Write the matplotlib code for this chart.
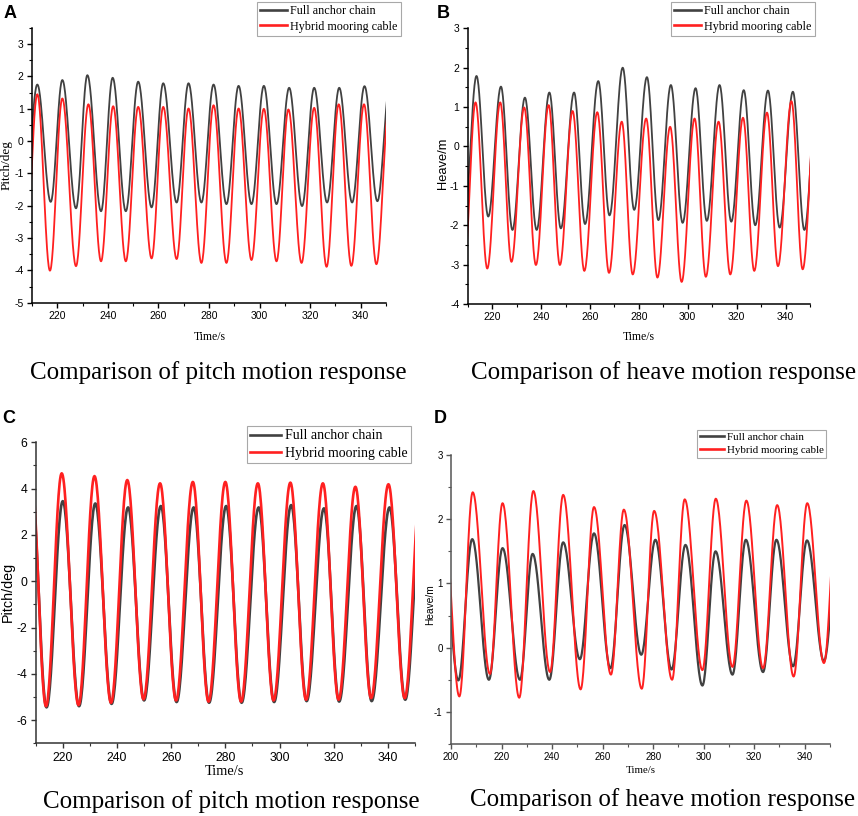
import numpy as np
import matplotlib
matplotlib.use("Agg")
import matplotlib.pyplot as plt
from matplotlib.ticker import MultipleLocator

plt.rcParams['axes.unicode_minus'] = False

# ---------------- DATA (extrema: time in s, value) ----------------
# Panel A: pitch (deg)
A_full_t = [207.1, 212.1, 217.4, 222.0, 227.4, 231.9, 237.3, 241.9, 247.1, 252.0, 257.3, 261.9, 267.2, 271.9,
            277.0, 281.8, 286.9, 291.7, 296.8, 301.7, 306.7, 311.7, 316.8, 321.6, 326.7, 331.5, 336.6, 341.5,
            346.6, 351.5]
A_full_v = [-1.9, 1.75, -1.88, 1.89, -2.08, 2.04, -2.17, 1.96, -2.17, 1.84, -2.05, 1.79, -1.90, 1.79,
            -1.90, 1.75, -1.95, 1.71, -1.95, 1.71, -1.95, 1.65, -2.01, 1.65, -1.90, 1.65, -1.90, 1.70,
            -1.86, 1.7]
A_hyb_t = [207.2, 212.1, 217.1, 222.0, 227.4, 232.3, 237.3, 242.1, 247.1, 252.0, 257.3, 261.9, 267.2, 271.9,
           277.0, 281.8, 286.9, 291.7, 296.8, 301.7, 306.7, 311.4, 316.6, 321.6, 326.5, 331.3, 336.3, 341.3,
           346.2, 351.3]
A_hyb_v = [-3.9, 1.45, -4.01, 1.32, -3.87, 1.14, -3.72, 1.08, -3.72, 1.06, -3.63, 1.06, -3.65, 1.01,
           -3.77, 1.11, -3.77, 1.01, -3.68, 1.00, -3.72, 0.98, -3.77, 1.03, -3.89, 1.14, -3.86, 1.14,
           -3.81, 1.1]

# Panel B: heave (m)
B_full_t = [208.6, 213.6, 218.4, 223.6, 228.3, 233.4, 238.2, 243.4, 248.1, 253.5, 258.0, 263.4, 268.0, 273.4,
            278.1, 283.3, 288.0, 293.1, 297.9, 303.2, 307.8, 313.0, 317.8, 322.9, 327.6, 332.8, 337.6, 343.0,
            347.7, 352.9]
B_full_v = [-1.9, 1.79, -1.78, 1.52, -2.12, 1.24, -2.12, 1.37, -2.08, 1.37, -1.97, 1.66, -1.75, 2.00,
            -1.61, 1.76, -1.87, 1.56, -1.94, 1.48, -1.89, 1.56, -1.91, 1.43, -2.00, 1.42, -2.06, 1.39,
            -2.12, 1.4]
B_hyb_t = [208.6, 213.2, 218.0, 223.3, 227.9, 233.1, 237.9, 243.1, 247.7, 252.9, 257.7, 263.0, 267.8, 273.0,
           277.5, 283.0, 287.6, 292.8, 297.5, 302.8, 307.4, 312.6, 317.4, 322.6, 327.2, 332.4, 336.9, 342.4,
           347.0, 352.4]
B_hyb_v = [-3.0, 1.12, -3.10, 1.12, -2.93, 0.99, -3.01, 1.05, -3.01, 0.90, -3.16, 0.87, -3.21, 0.63,
           -3.25, 0.71, -3.33, 0.50, -3.44, 0.71, -3.31, 0.63, -3.25, 0.73, -3.16, 0.86, -3.04, 1.15,
           -3.12, 1.1]

# Panel C: pitch (deg)
C_full_t = [208.4, 214.0, 220.0, 226.0, 232.0, 238.0, 244.1, 250.0, 256.2, 262.0, 268.3, 274.0, 280.3, 286.0,
            292.3, 298.0, 304.3, 310.0, 316.4, 322.0, 328.4, 334.0, 340.6, 346.4, 352.4]
C_full_v = [4.0, -5.45, 3.46, -5.40, 3.36, -5.30, 3.19, -5.15, 3.25, -5.22, 3.19, -5.25, 3.25, -5.25,
            3.19, -5.22, 3.29, -5.18, 3.15, -5.20, 3.25, -5.18, 3.19, -5.12, 3.2]
C_hyb_t = [208.3, 213.8, 219.6, 225.8, 231.7, 237.8, 243.8, 249.8, 255.9, 261.8, 268.0, 273.8, 280.0, 285.8,
           292.0, 297.8, 304.0, 309.8, 316.0, 321.8, 328.0, 333.8, 340.2, 346.2, 352.2]
C_hyb_v = [4.7, -5.40, 4.66, -5.35, 4.54, -5.25, 4.37, -5.10, 4.23, -5.15, 4.29, -5.20, 4.29, -5.20,
           4.23, -5.15, 4.26, -5.12, 4.23, -5.12, 4.08, -5.05, 4.19, -5.05, 4.2]

# Panel D: heave (m)
D_full_t = [196.8, 202.9, 208.4, 215.0, 220.4, 227.3, 232.3, 238.9, 244.4, 251.0, 256.6, 263.1, 268.7, 275.3,
            280.9, 287.3, 292.8, 299.5, 304.7, 311.4, 316.7, 323.5, 328.8, 335.4, 340.9, 347.6, 353.3]
D_full_v = [1.6, -0.51, 1.69, -0.50, 1.55, -0.50, 1.46, -0.50, 1.64, -0.18, 1.78, -0.32, 1.91, -0.11,
            1.68, -0.34, 1.60, -0.59, 1.50, -0.42, 1.68, -0.38, 1.68, -0.29, 1.67, -0.21, 1.65]
D_hyb_t = [196.8, 203.3, 208.6, 215.4, 220.4, 227.0, 232.6, 239.2, 244.4, 251.3, 256.6, 263.3, 268.4, 275.5,
           280.4, 287.5, 292.5, 299.5, 304.8, 311.4, 316.9, 323.5, 329.1, 335.6, 341.0, 347.6, 352.8]
D_hyb_v = [2.3, -0.76, 2.42, -0.41, 2.25, -0.78, 2.44, -0.38, 2.38, -0.65, 2.19, -0.42, 2.15, -0.64,
           2.13, -0.50, 2.31, -0.35, 2.32, -0.30, 2.29, -0.32, 2.22, -0.45, 2.25, -0.24, 2.2]

series_labels = ["Full anchor chain", "Hybrid mooring cable"]
captions = ["Comparison of pitch motion response", "Comparison of heave motion response",
            "Comparison of pitch motion response", "Comparison of heave motion response"]
panel_letters = ["A", "B", "C", "D"]
ylabels = ["Pitch/deg", "Heave/m", "Pitch/deg", "Heave/m"]
xlabel = "Time/s"

# ---------------- helpers ----------------
W, H = 858, 816
SERIF = "Liberation Serif"
SANS = "Liberation Sans"
GRAY = "#414141"
RED = "#ff2020"


def smooth(t_ext, v_ext, n=30):
    """Join consecutive extrema with half-cosine segments."""
    ts, vs = [], []
    for i in range(len(t_ext) - 1):
        s = np.linspace(0, 1, n, endpoint=False)
        ts.append(t_ext[i] + s * (t_ext[i + 1] - t_ext[i]))
        vs.append(v_ext[i] + (v_ext[i + 1] - v_ext[i]) * (1 - np.cos(np.pi * s)) / 2)
    ts.append([t_ext[-1]])
    vs.append([v_ext[-1]])
    return np.concatenate(ts), np.concatenate(vs)


def px_axes(fig, l, t, r, b):
    return fig.add_axes([l / W, 1 - b / H, (r - l) / W, (b - t) / H])


def ftext(fig, x, y, s, **kw):
    fig.text(x / W, 1 - y / H, s, **kw)


fig = plt.figure(figsize=(W / 100, H / 100), dpi=100)

panels = [
    dict(box=(32, 28, 386, 302.7), xlim=(210, 350), ylim=(-5, 3.5), xmaj=20, xmin=10, ymaj=1, ymin=0.5,
         xt0=220, data=(A_full_t, A_full_v, A_hyb_t, A_hyb_v), tick_fs=7.5, lw=(1.3, 1.3),
         leg=(257, 2), leg_fs=8.7, ylab=(7, 165, 9.5, SERIF), xlab=(209.5, 336.7, 8.5),
         cap=(218, 373), letter=(10, 13), spine="black"),
    dict(box=(467.7, 28.3, 810, 304), xlim=(210, 350), ylim=(-4, 3), xmaj=20, xmin=10, ymaj=1, ymin=0.5,
         xt0=220, data=(B_full_t, B_full_v, B_hyb_t, B_hyb_v), tick_fs=7.5, lw=(1.3, 1.3),
         leg=(671, 2), leg_fs=8.7, ylab=(443, 163, 9.3, SANS), xlab=(638.8, 336.7, 8.5),
         cap=(664, 373), letter=(443, 13), spine="black"),
    dict(box=(35.7, 442.3, 415, 743.3), xlim=(210, 350), ylim=(-7, 6), xmaj=20, xmin=10, ymaj=2, ymin=1,
         xt0=220, data=(C_full_t, C_full_v, C_hyb_t, C_hyb_v), tick_fs=8.8, lw=(1.9, 1.9),
         leg=(247, 426), leg_fs=10.0, ylab=(8, 592, 10.4, SANS), xlab=(224, 771.7, 10.4),
         cap=(231.7, 801.7), letter=(9, 419), spine="#333333"),
    dict(box=(451, 455, 830, 744), xlim=(200, 350), ylim=(-1.5, 3), xmaj=20, xmin=10, ymaj=1, ymin=0.5,
         xt0=200, data=(D_full_t, D_full_v, D_hyb_t, D_hyb_v), tick_fs=7.0, lw=(1.6, 1.4),
         leg=(697, 430), leg_fs=7.8, ylab=(430, 605, 7.3, SANS), xlab=(641, 770.7, 7.8),
         cap=(662.5, 800), letter=(440, 419), spine="#555555"),
]

for k, p in enumerate(panels):
    ax = px_axes(fig, *p["box"])
    ft, fv, ht, hv = p["data"]
    x1, y1 = smooth(ft, fv)
    x2, y2 = smooth(ht, hv)
    l1, = ax.plot(x1, y1, color=GRAY, lw=p["lw"][0], label=series_labels[0])
    l2, = ax.plot(x2, y2, color=RED, lw=p["lw"][1], label=series_labels[1])
    ax.set_xlim(*p["xlim"])
    ax.set_ylim(*p["ylim"])
    ax.set_xticks(np.arange(p["xt0"], 341, p["xmaj"]))
    ax.xaxis.set_minor_locator(MultipleLocator(p["xmin"]))
    ax.yaxis.set_major_locator(MultipleLocator(p["ymaj"]))
    ax.yaxis.set_minor_locator(MultipleLocator(p["ymin"]))
    for s in ("top", "right"):
        ax.spines[s].set_visible(False)
    for s in ("left", "bottom"):
        ax.spines[s].set_linewidth(1.1)
        ax.spines[s].set_color(p["spine"])
    ax.tick_params(which="major", direction="out", length=3.5, width=1.0, pad=2.5,
                   labelsize=p["tick_fs"], color=p["spine"])
    ax.tick_params(which="minor", direction="out", length=2, width=0.8, color=p["spine"])
    for lab in ax.get_xticklabels() + ax.get_yticklabels():
        lab.set_fontfamily(SANS)
    ax.patch.set_alpha(0)

    lx, ly = p["leg"]
    leg = ax.legend(handles=[l1, l2], loc="upper left", bbox_to_anchor=(lx / W, 1 - ly / H),
                    bbox_transform=fig.transFigure, frameon=True, fancybox=False,
                    edgecolor="#a8a8a8", framealpha=1, borderaxespad=0, borderpad=0.25,
                    handlelength=2.2, handletextpad=0.3, labelspacing=0.3,
                    prop={"family": SERIF, "size": p["leg_fs"]})
    leg.get_frame().set_linewidth(0.8)
    for ln in leg.get_lines():
        ln.set_linewidth(1.9)

    yx, yy, yfs, yfam = p["ylab"]
    ftext(fig, yx, yy, ylabels[k], rotation=90, ha="center", va="center", family=yfam, size=yfs)
    xx, xy, xfs = p["xlab"]
    ftext(fig, xx, xy, xlabel, ha="center", va="center", family=SERIF, size=xfs)
    cx, cy = p["cap"]
    ftext(fig, cx, cy, captions[k], ha="center", va="center", family=SERIF, size=18)
    lx2, ly2 = p["letter"]
    ftext(fig, lx2, ly2, panel_letters[k], ha="center", va="center", family=SANS,
          weight="bold", size=13)

fig.savefig("out.png", dpi=100)
